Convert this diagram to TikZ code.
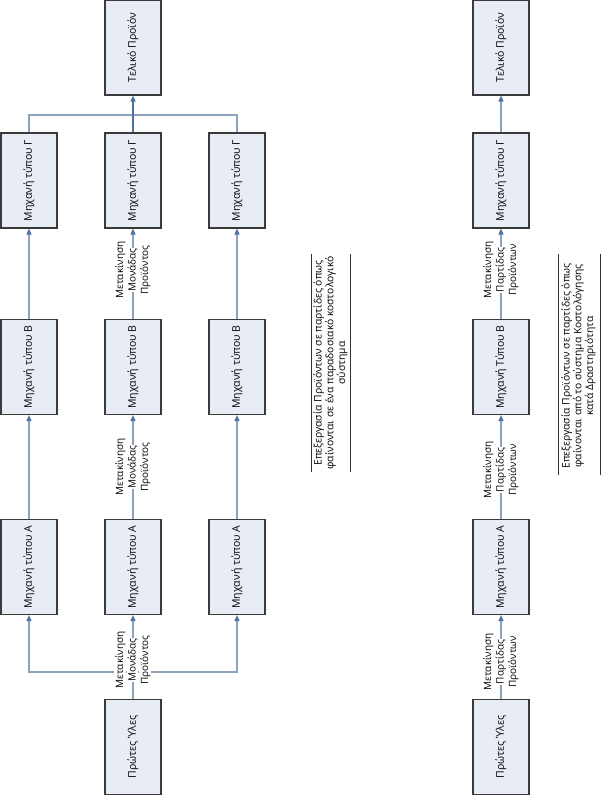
\documentclass[tikz,border=0pt]{standalone}
\usepackage{fontspec}
\setmainfont{Open Sans}
\usetikzlibrary{arrows.meta}
\definecolor{boxfill}{HTML}{E8ECF4}
\definecolor{boxline}{HTML}{3A3A3A}
\definecolor{connc}{HTML}{8FA2BD}
\definecolor{tipc}{HTML}{4F6FA3}
\newcommand\rtxt[1]{\rotatebox{90}{#1}}
\newcommand\mlab[3]{\rotatebox{90}{\setlength\fboxsep{0.8pt}\renewcommand\arraystretch{0.95}\begin{tabular}{@{}c@{}}\colorbox{white}{#1}\\\colorbox{white}{#2}\\\colorbox{white}{#3}\end{tabular}}}
\begin{document}
\begin{tikzpicture}[x=1pt,y=-1pt,
  box/.style={draw=boxline, fill=boxfill, line width=1.1pt, minimum width=56pt, minimum height=95pt, inner sep=0pt, font=\fontsize{10.5}{12}\selectfont},
  conn/.style={draw=connc, line width=1.2pt},
  arr/.style={conn, -{Triangle[length=6pt,width=5pt,color=tipc]}},
  thickarr/.style={draw=tipc, line width=1.8pt, -{Triangle[length=6pt,width=5pt,color=tipc]}},
  lbl/.style={inner sep=0pt, font=\fontsize{10}{12.5}\selectfont},
  captext/.style={inner sep=0pt, font=\fontsize{10.3}{11.5}\selectfont},
  capline/.style={draw=black!80, line width=0.9pt}]
\useasboundingbox (0,0) rectangle (604,795);
% left diagram
\node[box] (fin) at (133,47.5) {\rtxt{Τελικό Προϊόν}};
\node[box] (gL) at (29,180.5) {\rtxt{Μηχανή τύπου Γ}};
\node[box] (gM) at (133,180.5) {\rtxt{Μηχανή τύπου Γ}};
\node[box] (gR) at (237,180.5) {\rtxt{Μηχανή τύπου Γ}};
\node[box] (bL) at (29,367) {\rtxt{Μηχανή τύπου Β}};
\node[box] (bM) at (133,367) {\rtxt{Μηχανή τύπου Β}};
\node[box] (bR) at (237,367) {\rtxt{Μηχανή τύπου Β}};
\node[box] (aL) at (29,567) {\rtxt{Μηχανή τύπου Α}};
\node[box] (aM) at (133,567) {\rtxt{Μηχανή τύπου Α}};
\node[box] (aR) at (237,567) {\rtxt{Μηχανή τύπου Α}};
\node[box] (raw) at (133,747) {\rtxt{Πρώτες Ύλες}};
\coordinate (sp) at (133,672);
\coordinate (jn) at (133,115);
\draw[conn] (raw.north) -- (sp);
\draw[arr] (sp) -| (aL.south);
\draw[arr] (sp) -| (aR.south);
\draw[arr] (sp) -- (aM.south);
\draw[arr] (aL.north) -- (bL.south);
\draw[arr] (aM.north) -- (bM.south);
\draw[arr] (aR.north) -- (bR.south);
\draw[arr] (bL.north) -- (gL.south);
\draw[arr] (bM.north) -- (gM.south);
\draw[arr] (bR.north) -- (gR.south);
\draw[conn] (gL.north) |- (jn) -| (gR.north);
\draw[thickarr] (gM.north) -- (fin.south);
\node[lbl] (l1) at (133,660) {\mlab{Μετακίνηση}{Μονάδας}{Προϊόντος}};
\node[lbl] (l2) at (133,467) {\mlab{Μετακίνηση}{Μονάδας}{Προϊόντος}};
\node[lbl] (l3) at (133,270) {\mlab{Μετακίνηση}{Μονάδας}{Προϊόντος}};
% right diagram
\node[box] (fin2) at (501,47.5) {\rtxt{Τελικό Προϊόν}};
\node[box] (g2) at (501,180.5) {\rtxt{Μηχανή τύπου Γ}};
\node[box] (b2) at (501,367) {\rtxt{Μηχανή Τύπου Β}};
\node[box] (a2) at (501,567) {\rtxt{Μηχανή τύπου Α}};
\node[box] (raw2) at (501,747) {\rtxt{Πρώτες Ύλες}};
\draw[arr] (raw2.north) -- (a2.south);
\draw[arr] (a2.north) -- (b2.south);
\draw[arr] (b2.north) -- (g2.south);
\draw[arr] (g2.north) -- (fin2.south);
\node[lbl] (r1) at (501,662) {\mlab{Μετακίνηση}{Παρτίδας}{Προϊόντων}};
\node[lbl] (r2) at (501,470) {\mlab{Μετακίνηση}{Παρτίδας}{Προϊόντων}};
\node[lbl] (r3) at (501,270) {\mlab{Μετακίνηση}{Παρτίδας}{Προϊόντων}};
% captions
\node[captext] (c1) at (331,363) {\rotatebox{90}{\begin{tabular}{@{}c@{}}Επεξεργασία Προϊόντων σε παρτίδες όπως\\φαίνονται σε ένα παραδοσιακό κοστολογικό\\σύστημα\end{tabular}}};
\draw[capline] (311,254) -- (311,472);
\draw[capline] (350,254) -- (350,472);
\node[captext] (c2) at (579,366) {\rotatebox{90}{\begin{tabular}{@{}c@{}}Επεξεργασία Προϊόντων σε παρτίδες όπως\\φαίνονται από το σύστημα Κοστολόγησης\\κατά Δραστηριότητα\end{tabular}}};
\draw[capline] (558,254) -- (558,475);
\draw[capline] (600,254) -- (600,475);
\end{tikzpicture}
\end{document}
